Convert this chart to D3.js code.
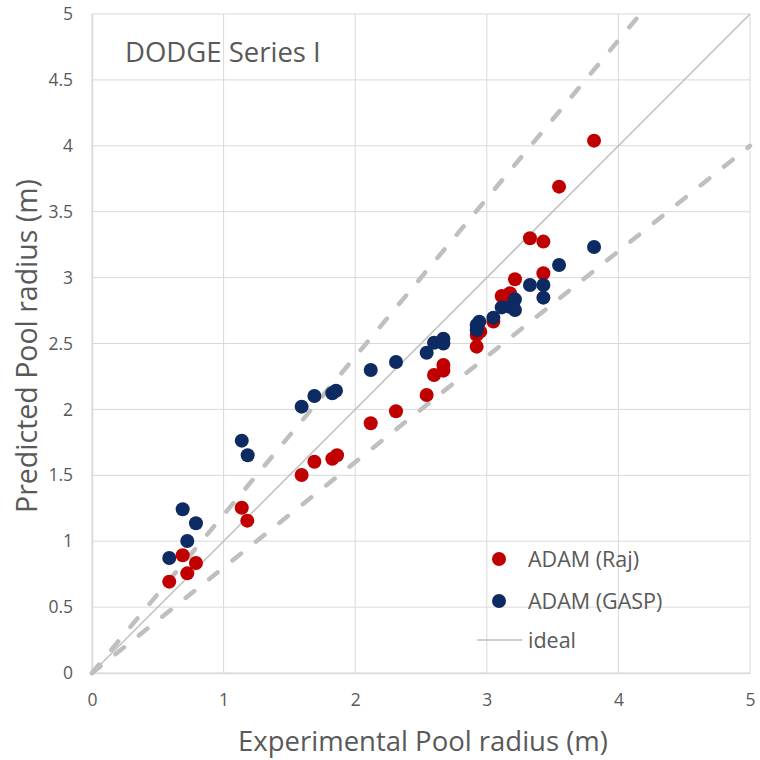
<!DOCTYPE html>
<html>
<head>
<meta charset="utf-8">
<script src="https://cdn.jsdelivr.net/npm/d3@7"></script>
<style>
  html, body { margin: 0; padding: 0; background: #fff; }
  svg { display: block; font-family: "Segoe UI", "Open Sans", "Noto Sans", sans-serif; }
</style>
</head>
<body>
<svg id="chart" width="760" height="760"></svg>
<script>
// Measured pool radius (m) and the radius predicted by each model
const rajX  = [0.587, 0.689, 0.724, 0.790, 1.138, 1.180, 1.593, 1.690, 1.826, 1.862, 2.118, 2.310, 2.543, 2.599, 2.670, 2.670, 2.923, 2.923, 2.950, 3.050, 3.113, 3.176, 3.214, 3.200, 3.328, 3.430, 3.430, 3.549, 3.815];
const rajY  = [0.693, 0.893, 0.756, 0.835, 1.254, 1.156, 1.502, 1.603, 1.626, 1.652, 1.895, 1.986, 2.109, 2.261, 2.337, 2.294, 2.476, 2.565, 2.590, 2.666, 2.860, 2.881, 2.987, 2.800, 3.298, 3.273, 3.033, 3.690, 4.039];
const gaspX = [0.587, 0.689, 0.724, 0.790, 1.138, 1.183, 1.593, 1.690, 1.826, 1.854, 2.118, 2.310, 2.543, 2.599, 2.670, 2.670, 2.923, 2.923, 2.943, 3.050, 3.113, 3.176, 3.214, 3.214, 3.328, 3.430, 3.430, 3.549, 3.815];
const gaspY = [0.873, 1.242, 1.001, 1.136, 1.763, 1.652, 2.021, 2.102, 2.122, 2.142, 2.299, 2.360, 2.430, 2.506, 2.536, 2.500, 2.602, 2.640, 2.665, 2.696, 2.774, 2.779, 2.835, 2.754, 2.944, 2.944, 2.848, 3.096, 3.232];

const xTicks = [0, 1, 2, 3, 4, 5];
const yTicks = [0, 0.5, 1, 1.5, 2, 2.5, 3, 3.5, 4, 4.5, 5];
const bandFactors = [1.2, 0.8];   // ±20 % bounds
const seriesNames = ["ADAM (Raj)", "ADAM (GASP)", "ideal"];

const svg = d3.select("#chart");
const plotLeft = 92, plotRight = 750, plotTop = 14, plotBottom = 673;

const x = d3.scaleLinear().domain([0, 5]).range([plotLeft, plotRight]);
const y = d3.scaleLinear().domain([0, 5]).range([plotBottom, plotTop]);

const gridColor = "#d9d9d9", textColor = "#595959";
const redColor = "#c00000", blueColor = "#0d2a63", refColor = "#bfbfbf";
const dotR = 7;

// gridlines
svg.append("g").selectAll("line").data(xTicks).join("line")
  .attr("x1", d => x(d)).attr("x2", d => x(d))
  .attr("y1", y(0)).attr("y2", y(5))
  .attr("stroke", gridColor).attr("stroke-width", 1);
svg.append("g").selectAll("line").data(yTicks).join("line")
  .attr("x1", x(0)).attr("x2", x(5))
  .attr("y1", d => y(d)).attr("y2", d => y(d))
  .attr("stroke", gridColor).attr("stroke-width", 1);

// axes
const xAxis = svg.append("g").attr("transform", `translate(0,${plotBottom})`)
  .call(d3.axisBottom(x).tickValues(xTicks).tickSize(0).tickPadding(21).tickFormat(d3.format("d")));
const yAxis = svg.append("g").attr("transform", `translate(${plotLeft},0)`)
  .call(d3.axisLeft(y).tickValues(yTicks).tickSize(0).tickPadding(19).tickFormat(d => String(d)));
[xAxis, yAxis].forEach(a => {
  a.select(".domain").attr("stroke", gridColor).attr("stroke-width", 1.5);
  a.selectAll("text").attr("fill", textColor).style("font-size", "17.5px")
    .style("font-family", "'Segoe UI', 'Open Sans', 'Noto Sans', sans-serif");
});

// ±20 % bounds
const line = d3.line().x(d => x(d[0])).y(d => y(d[1]));
bandFactors.forEach(f => {
  const xEnd = Math.min(5, 5 / f);
  svg.append("path")
    .attr("d", line([[0, 0], [xEnd, xEnd * f]]))
    .attr("fill", "none").attr("stroke", refColor)
    .attr("stroke-width", 4.5).attr("stroke-linecap", "round")
    .attr("stroke-dasharray", "11,19");
});

// ideal 1:1 line
svg.append("path").attr("d", line([[0, 0], [5, 5]]))
  .attr("fill", "none").attr("stroke", refColor).attr("stroke-width", 1.5);

const raj = rajX.map((v, i) => [v, rajY[i]]);
const gasp = gaspX.map((v, i) => [v, gaspY[i]]);

svg.append("g").selectAll("circle").data(raj).join("circle")
  .attr("cx", d => x(d[0])).attr("cy", d => y(d[1])).attr("r", dotR)
  .attr("fill", redColor);
svg.append("g").selectAll("circle").data(gasp).join("circle")
  .attr("cx", d => x(d[0])).attr("cy", d => y(d[1])).attr("r", dotR)
  .attr("fill", blueColor);

// title inside the plot
svg.append("text").attr("x", 125).attr("y", 62)
  .attr("fill", textColor).style("font-size", "27.5px").text("DODGE Series I");

// axis titles
svg.append("text").attr("x", 423).attr("y", 751).attr("text-anchor", "middle")
  .attr("fill", textColor).style("font-size", "27.5px").text("Experimental Pool radius (m)");
svg.append("text").attr("transform", "translate(37,346) rotate(-90)").attr("text-anchor", "middle")
  .attr("fill", textColor).style("font-size", "28.5px").text("Predicted Pool radius (m)");

// legend
const lg = svg.append("g");
lg.append("circle").attr("cx", 499).attr("cy", 559).attr("r", dotR).attr("fill", redColor);
lg.append("circle").attr("cx", 499).attr("cy", 601).attr("r", dotR).attr("fill", blueColor);
lg.append("line").attr("x1", 477).attr("x2", 522).attr("y1", 640).attr("y2", 640)
  .attr("stroke", refColor).attr("stroke-width", 1.5);
[559, 601, 640].forEach((cy, i) => {
  lg.append("text").attr("x", 528).attr("y", cy + 8)
    .attr("fill", textColor).style("font-size", "21.5px").text(seriesNames[i]);
});
</script>
</body>
</html>
